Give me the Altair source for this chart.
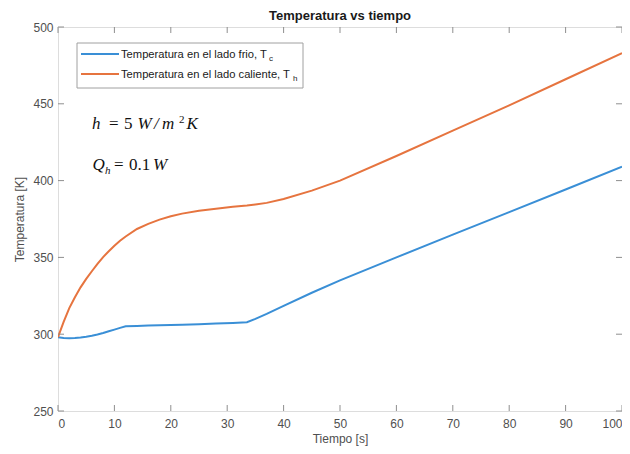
import altair as alt
import pandas as pd

# ---- data ----
time_s = [0, 1, 2, 3, 4, 5, 6, 7, 8, 9, 10, 11, 12, 14, 16, 18, 20, 22, 25, 28,
          31, 33.5, 35, 37, 40, 45, 50, 60, 70, 80, 90, 100]
t_cold = [298.0, 297.6, 297.4, 297.5, 297.9, 298.4, 299.0, 299.8, 300.8, 301.9,
          303.0, 304.1, 305.1, 305.4, 305.6, 305.8, 306.0, 306.2, 306.5, 306.9,
          307.3, 307.8, 310.0, 313.2, 318.5, 327.0, 335.0, 350.0, 364.8, 379.5,
          394.2, 409.0]
t_hot = [298.0, 308.0, 317.0, 324.0, 330.5, 336.0, 341.0, 345.8, 350.2, 354.0,
         357.6, 360.8, 363.6, 368.5, 371.8, 374.6, 376.8, 378.5, 380.3, 381.6,
         382.9, 383.8, 384.5, 385.5, 388.0, 393.5, 400.0, 416.0, 432.5, 449.0,
         466.0, 483.0]
series_names = ["Temperatura en el lado frio", "Temperatura en el lado caliente"]
series_colors = ["#3a8fd6", "#e6743f"]
x_ticks = [0, 10, 20, 30, 40, 50, 60, 70, 80, 90, 100]
y_ticks = [250, 300, 350, 400, 450, 500]
title_text = "Temperatura vs tiempo"

W, H = 564, 384
AX = "#8f8f8f"
LBL = "#4f4f4f"
SANS = "Liberation Sans"
SERIF = "Liberation Serif"

rows = []
for t, c, h in zip(time_s, t_cold, t_hot):
    rows.append({"t": t, "T": c, "s": series_names[0], "o": 0})
    rows.append({"t": t, "T": h, "s": series_names[1], "o": 1})
df = pd.DataFrame(rows)

xs = alt.Scale(domain=[0, 100], nice=False, zero=False)
ys = alt.Scale(domain=[250, 500], nice=False, zero=False)

lines = alt.Chart(df).mark_line(strokeWidth=2, clip=True).encode(
    x=alt.X("t:Q", scale=xs, title="Tiempo [s]",
            axis=alt.Axis(values=x_ticks, ticks=False, domain=False, grid=False,
                          labelFontSize=12, labelColor=LBL, labelFont=SANS,
                          labelPadding=7, titleFont=SANS, titleFontSize=12,
                          titleFontWeight="normal", titleColor=LBL, titlePadding=4)),
    y=alt.Y("T:Q", scale=ys, title="Temperatura [K]",
            axis=alt.Axis(values=y_ticks, ticks=False, domain=False, grid=False,
                          labelFontSize=12, labelColor=LBL, labelFont=SANS,
                          labelPadding=5, titleFont=SANS, titleFontSize=12,
                          titleFontWeight="normal", titleColor=LBL, titlePadding=6)),
    color=alt.Color("s:N", scale=alt.Scale(domain=series_names, range=series_colors),
                    legend=None),
    order="o:Q",
    detail="s:N",
)

xt = pd.DataFrame({"v": x_ticks})
yt = pd.DataFrame({"v": y_ticks})
tk = 6
ticks = [
    alt.Chart(xt).mark_rule(color=AX, strokeWidth=1).encode(
        x=alt.X("v:Q", scale=xs), y=alt.value(H), y2=alt.value(H - tk)),
    alt.Chart(xt).mark_rule(color=AX, strokeWidth=1).encode(
        x=alt.X("v:Q", scale=xs), y=alt.value(0), y2=alt.value(tk)),
    alt.Chart(yt).mark_rule(color=AX, strokeWidth=1).encode(
        y=alt.Y("v:Q", scale=ys), x=alt.value(0), x2=alt.value(tk)),
    alt.Chart(yt).mark_rule(color=AX, strokeWidth=1).encode(
        y=alt.Y("v:Q", scale=ys), x=alt.value(W), x2=alt.value(W - tk)),
]

def txt(x, y, s, size=11, font=SANS, style="normal", color="#1a1a1a",
        weight="normal", align="left"):
    return alt.Chart(pd.DataFrame({"a": [0]})).mark_text(
        align=align, baseline="alphabetic", fontSize=size, font=font, fontStyle=style,
        fontWeight=weight, color=color).encode(
        x=alt.value(x), y=alt.value(y), text=alt.value(s))

title = txt(W / 2, -7.5, title_text, size=13, weight="bold", align="center",
            color="#1a1a1a")

# legend box
legend_box = alt.Chart(pd.DataFrame({"a": [0]})).mark_rect(
    fill="white", stroke="#a0a0a0", strokeWidth=1).encode(
    x=alt.value(19), x2=alt.value(245), y=alt.value(16), y2=alt.value(61))
leg_c = alt.Chart(pd.DataFrame({"a": [0]})).mark_rule(
    color=series_colors[0], strokeWidth=2).encode(
    x=alt.value(23), x2=alt.value(61), y=alt.value(27))
leg_h = alt.Chart(pd.DataFrame({"a": [0]})).mark_rule(
    color=series_colors[1], strokeWidth=2).encode(
    x=alt.value(23), x2=alt.value(61), y=alt.value(47))
LF = 11.2
legend = [
    legend_box, leg_c, leg_h,
    txt(63, 31, "Temperatura en el lado frio, T", size=LF),
    txt(211, 34, "c", size=8),
    txt(63, 51, "Temperatura en el lado caliente, T", size=LF),
    txt(235, 54, "h", size=8),
]

# math annotations
MS = 17
SS = 11
K = "#111111"
ann = [
    txt(34, 102, "h", size=MS, font=SERIF, style="italic", color=K),
    txt(51, 102, "=", size=MS, font=SERIF, color=K),
    txt(66, 102, "5", size=MS, font=SERIF, color=K),
    txt(79.5, 102, "W", size=MS, font=SERIF, style="italic", color=K),
    txt(96, 102, "/", size=MS, font=SERIF, style="italic", color=K),
    txt(104, 102, "m", size=MS, font=SERIF, style="italic", color=K),
    txt(121, 96, "2", size=SS, font=SERIF, color=K),
    txt(128.5, 102, "K", size=MS, font=SERIF, style="italic", color=K),
    txt(34.4, 143, "Q", size=MS, font=SERIF, style="italic", color=K),
    txt(47, 147, "h", size=SS, font=SERIF, style="italic", color=K),
    txt(56, 143, "=", size=MS, font=SERIF, color=K),
    txt(71, 143, "0.1", size=MS, font=SERIF, color=K),
    txt(95, 143, "W", size=MS, font=SERIF, style="italic", color=K),
]

chart = alt.layer(lines, *ticks, title, *legend, *ann).properties(
    width=W, height=H,
    autosize=alt.AutoSizeParams(type="none"),
    padding={"left": 50, "top": 19, "right": 0, "bottom": 40},
).configure_view(stroke=AX, strokeWidth=1).configure(background="white")

chart.save("out.html", embed_options={"renderer": "svg", "actions": False})
